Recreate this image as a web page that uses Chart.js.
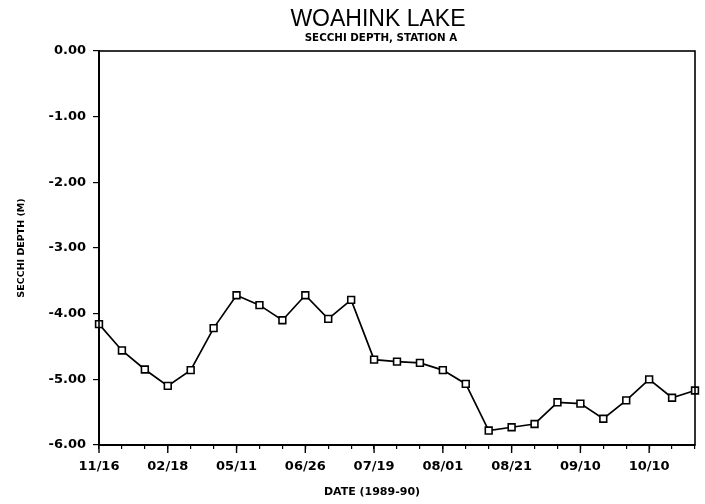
<!DOCTYPE html>
<html>
<head>
<meta charset="utf-8">
<script src="https://cdn.jsdelivr.net/npm/chart.js@4"></script>
<style>
  body { margin: 0; background: #fff; }
</style>
</head>
<body>
<canvas id="graficoSecchi" width="705" height="504"></canvas>
<script>
// Woahink Lake - Secchi depth, station A (1989-90)
const depth = [-4.16, -4.56, -4.85, -5.10, -4.86, -4.22, -3.72, -3.87, -4.10,
               -3.72, -4.08, -3.79, -4.70, -4.73, -4.75, -4.86, -5.07, -5.78,
               -5.73, -5.68, -5.35, -5.37, -5.60, -5.32, -5.00, -5.28, -5.17];
const tickLabels = ['11/16', '02/18', '05/11', '06/26', '07/19', '08/01', '08/21', '09/10', '10/10'];
const labelEvery = 3;
const yTicks = [0, -1, -2, -3, -4, -5, -6];

const categories = depth.map((_, i) => (i % labelEvery === 0 ? tickLabels[i / labelEvery] : ''));

const fontBold = 'DejaVu Sans';

// moldura, ticks maiores e títulos
const moldura = {
    id: 'moldura',
    afterDraw(chart) {
        const { ctx, chartArea: a, scales } = chart;
        ctx.save();
        ctx.strokeStyle = '#000';
        ctx.lineWidth = 1.6;
        ctx.strokeRect(a.left, a.top, a.right - a.left, a.bottom - a.top);

        // ticks maiores nas datas
        ctx.lineWidth = 1.4;
        categories.forEach((c, i) => {
            if (i % labelEvery !== 0) return;
            const x = scales.x.getPixelForValue(i);
            ctx.beginPath();
            ctx.moveTo(x, a.bottom);
            ctx.lineTo(x, a.bottom + 8);
            ctx.stroke();
        });

        ctx.fillStyle = '#000';
        ctx.textAlign = 'center';
        ctx.textBaseline = 'middle';
        const cx = a.left + (a.right - a.left) * 0.468;
        ctx.font = '23px "Liberation Sans"';
        ctx.fillText('WOAHINK LAKE', cx, 20);
        ctx.font = 'bold 10.3px "' + fontBold + '"';
        ctx.fillText('SECCHI DEPTH, STATION A', cx + 3, 38);
        ctx.font = 'bold 11px "' + fontBold + '"';
        ctx.fillText('DATE (1989-90)', a.left + (a.right - a.left) * 0.458, 492);
        ctx.restore();
    }
};

const ctxSecchi = document.getElementById('graficoSecchi').getContext('2d');
new Chart(ctxSecchi, {
    type: 'line',
    data: {
        labels: categories,
        datasets: [{
            label: 'Secchi Depth (M)',
            data: depth,
            borderColor: '#000',
            borderWidth: 1.7,
            tension: 0,
            pointStyle: 'rect',
            pointRadius: 4.8,
            pointBorderWidth: 1.6,
            pointBorderColor: '#000',
            pointBackgroundColor: '#fff'
        }]
    },
    options: {
        responsive: false,
        animation: false,
        layout: { padding: { top: 51, right: 10, left: 12, bottom: 0 } },
        plugins: {
            legend: { display: false },
            tooltip: { enabled: false }
        },
        scales: {
            x: {
                type: 'category',
                offset: false,
                grid: { display: true, drawOnChartArea: false, tickLength: 4, color: '#000', lineWidth: 1.2 },
                border: { display: true, color: '#000', width: 2 },
                ticks: {
                    autoSkip: false,
                    maxRotation: 0,
                    padding: 10,
                    color: '#000',
                    font: { family: fontBold, size: 13, weight: 'bold' }
                },
                afterFit(scale) { scale.height = 59; }
            },
            y: {
                min: -6,
                max: 0,
                afterBuildTicks(scale) { scale.ticks = yTicks.map(v => ({ value: v })); },
                grid: { display: true, drawOnChartArea: false, tickLength: 6, color: '#000', lineWidth: 1.2 },
                border: { display: true, color: '#000', width: 2 },
                ticks: {
                    padding: 7,
                    color: '#000',
                    font: { family: fontBold, size: 13, weight: 'bold' },
                    callback: v => v.toFixed(2)
                },
                title: {
                    display: true,
                    text: 'SECCHI DEPTH (M)',
                    color: '#000',
                    font: { family: fontBold, size: 9.5, weight: 'bold' }
                },
                afterFit(scale) { scale.width = 87; }
            }
        }
    },
    plugins: [moldura]
});
</script>
</body>
</html>
